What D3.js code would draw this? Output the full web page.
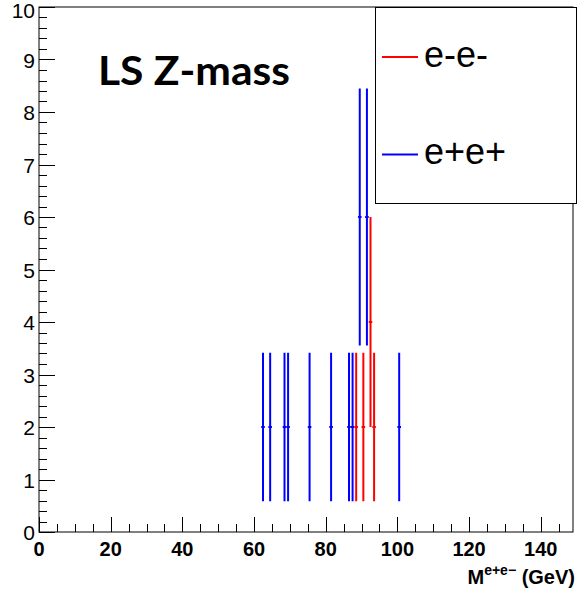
<!DOCTYPE html>
<html>
<head>
<meta charset="utf-8">
<script src="https://cdn.jsdelivr.net/npm/d3@7"></script>
<style>
  html, body { margin: 0; padding: 0; background: #fff; }
  svg { display: block; }
</style>
</head>
<body>
<svg id="chart" width="577" height="590"></svg>
<script>
// ---- data ----
const eeCenters = [88.5, 90.5, 92.5, 93.5];            // e-e- bin centers (GeV)
const eeCounts  = [2, 2, 4, 2];
const ppCenters = [62.5, 64.5, 68.5, 69.5, 75.5, 81.5, 86.5, 87.5, 89.5, 91.5, 100.5]; // e+e+
const ppCounts  = [2, 2, 2, 2, 2, 2, 2, 2, 6, 6, 2];
const binWidth = 1;
const xTickLabels = [0, 20, 40, 60, 80, 100, 120, 140];
const yTickLabels = [0, 1, 2, 3, 4, 5, 6, 7, 8, 9, 10];
const legendLabels = ["e-e-", "e+e+"];
const titleText = "LS Z-mass";

const SANS = "'Liberation Sans', Arial, Helvetica, sans-serif";

// ---- layout ----
const svg = d3.select("#chart");
const L = 39, R = 573, T = 7, B = 532;
const x = d3.scaleLinear().domain([0, 149]).range([L, R]);
const y = d3.scaleLinear().domain([0, 10]).range([B, T]);

// frame
svg.append("rect").attr("x", L).attr("y", T).attr("width", R - L).attr("height", B - T)
  .attr("fill", "none").attr("stroke", "#000").attr("stroke-width", 1);

// y axis ticks (inside)
const yMinor = d3.range(0, 10.001, 0.2);
svg.append("g").selectAll("line").data(yMinor).join("line")
  .attr("x1", L).attr("x2", d => Math.abs(d - Math.round(d)) < 1e-6 ? L + 16 : L + 8)
  .attr("y1", d => Math.round(y(d)) + 0.5).attr("y2", d => Math.round(y(d)) + 0.5)
  .attr("stroke", "#000").attr("stroke-width", 1);
svg.append("g").selectAll("text").data(yTickLabels).join("text")
  .attr("x", 35).attr("y", d => Math.max(y(d), 10)).attr("dy", "0.4em")
  .attr("text-anchor", "end")
  .attr("font-family", SANS).attr("font-size", 21)
  .text(d => d);

// x axis ticks (inside)
const xMinor = d3.range(0, 149, 5);
svg.append("g").selectAll("line").data(xMinor).join("line")
  .attr("x1", d => Math.round(x(d)) + 0.5).attr("x2", d => Math.round(x(d)) + 0.5)
  .attr("y1", B).attr("y2", d => d % 20 === 0 ? B - 15 : B - 8)
  .attr("stroke", "#000").attr("stroke-width", 1);
svg.append("g").selectAll("text").data(xTickLabels).join("text")
  .attr("x", d => x(d)).attr("y", 556)
  .attr("text-anchor", "middle")
  .attr("font-family", SANS).attr("font-size", 20)
  .attr("font-weight", "bold")
  .text(d => d);

// x title
const xt = svg.append("text").attr("x", 575).attr("y", 584).attr("text-anchor", "end")
  .attr("font-family", SANS).attr("font-weight", "bold")
  .attr("font-size", 20);
xt.append("tspan").text("M");
xt.append("tspan").attr("font-size", 14).attr("dy", -9).text("e+e\u2212");
xt.append("tspan").attr("dy", 9).text(" (GeV)");

// error bars
function drawSeries(centers, counts, color) {
  const g = svg.append("g");
  const pts = centers.map((c, i) => ({ c, n: counts[i], e: Math.sqrt(counts[i]) }));
  g.selectAll("line.v").data(pts).join("line").attr("class", "v")
    .attr("x1", d => x(d.c)).attr("x2", d => x(d.c))
    .attr("y1", d => y(d.n - d.e)).attr("y2", d => y(d.n + d.e))
    .attr("stroke", color).attr("stroke-width", 2);
  g.selectAll("line.h").data(pts).join("line").attr("class", "h")
    .attr("x1", d => x(d.c - binWidth / 2)).attr("x2", d => x(d.c + binWidth / 2))
    .attr("y1", d => y(d.n)).attr("y2", d => y(d.n))
    .attr("stroke", color).attr("stroke-width", 2);
}
drawSeries(ppCenters, ppCounts, "#0000ff");
drawSeries(eeCenters, eeCounts, "#ff0000");

// title text
svg.append("text").attr("x", 98).attr("y", 85)
  .attr("font-family", "Lato, Carlito, sans-serif").attr("font-weight", "bold")
  .attr("font-size", 40).attr("textLength", 192).attr("lengthAdjust", "spacingAndGlyphs")
  .text(titleText);

// legend
const lg = svg.append("g");
lg.append("rect").attr("x", 375.5).attr("y", 7.5).attr("width", 201).attr("height", 196)
  .attr("fill", "#fff").attr("stroke", "#000").attr("stroke-width", 1);
const legColors = ["#ff0000", "#0000ff"];
const legY = [57, 154.5];
legendLabels.forEach((lab, i) => {
  lg.append("line").attr("x1", 382).attr("x2", 418).attr("y1", legY[i]).attr("y2", legY[i])
    .attr("stroke", legColors[i]).attr("stroke-width", 2);
  lg.append("text").attr("x", 424).attr("y", legY[i] + 9.5)
    .attr("font-family", SANS).attr("font-size", 36)
    .text(lab);
});
</script>
</body>
</html>
